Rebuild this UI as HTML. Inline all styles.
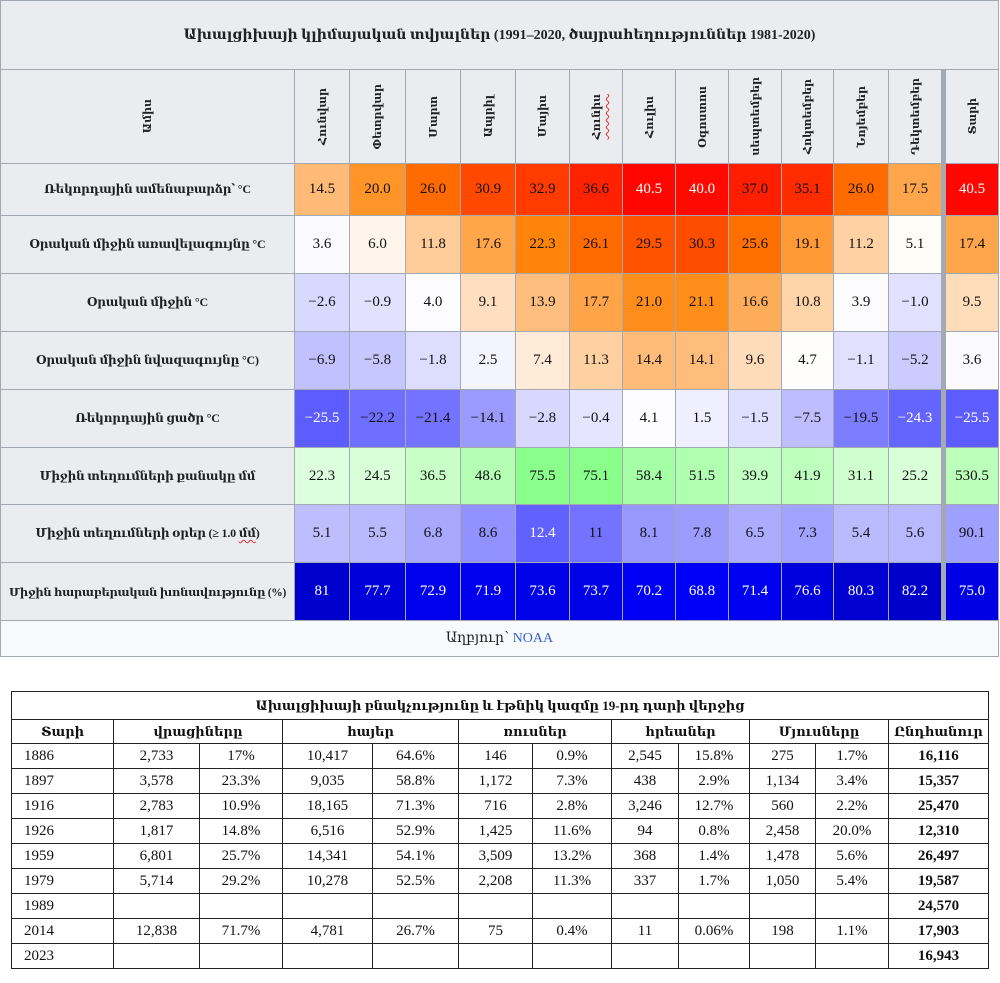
<!DOCTYPE html>
<html>
<head>
<meta charset="utf-8">
<style>
  html,body{margin:0;padding:0;background:#fff;}
  body{width:1000px;height:983px;position:relative;overflow:hidden;font-family:"Liberation Serif","DejaVu Serif",serif;color:#202122;}
  .t1{position:absolute;left:0;top:0;width:999px;height:657px;box-sizing:border-box;padding:1px;background:#a2a9b1;
      display:grid;gap:1px;
      grid-template-columns:293px 54px 55px 54px 54px 53px 52px 52px 52px 52px 51px 54px 52px 3px 52px;
      grid-template-rows:68px 93px 51px 57px 57px 57px 57px 56px 57px 57px 35px;}
  .t1 > div{display:flex;align-items:center;justify-content:center;text-align:center;}
  .title{grid-column:1 / span 15;background:#eaecf0;font-weight:bold;font-size:14px;color:#202122;}
  .th{background:#eaecf0;font-weight:bold;font-size:12px;color:#202122;white-space:nowrap;letter-spacing:-0.2px;}
  .vh{background:#eaecf0;font-weight:bold;font-size:11px;color:#202122;}
  .vh span{writing-mode:vertical-rl;transform:rotate(180deg);white-space:nowrap;}
  .sep{background:#a4a9b2;}
  .c{font-size:15px;color:#111;}
  .w{color:#fff;}
  .src{grid-column:1 / span 15;background:#f8f9fa;font-size:14px;color:#202122;}
  .src a{color:#3366cc;text-decoration:none;}
  .sq{text-decoration:underline wavy #d33;text-decoration-thickness:1px;text-underline-offset:2px;}

  .t2{position:absolute;left:11px;top:691px;width:978px;height:278px;box-sizing:border-box;padding:1px;background:#222;
      display:grid;gap:1px;
      grid-template-columns:101px 85px 82px 89px 85px 73px 78px 66px 70px 65px 72px 99px;
      grid-template-rows:27px 23px 24px 24px 24px 24px 24px 24px 24px 24px 24px;
      font-size:15px;color:#111;}
  .t2 > div{background:#fff;display:flex;align-items:center;justify-content:center;white-space:nowrap;}
  .t2 .tt{grid-column:1 / span 12;font-weight:bold;font-size:13px;}
  .t2 .h{font-weight:bold;font-size:13px;}
  .t2 .s2{grid-column:span 2;}
  .t2 .y{justify-content:flex-start;padding-left:12px;}
  .t2 .b{font-weight:bold;}
</style>
</head>
<body>

<div class="t1">
  <div class="title">Ախալցիխայի կլիմայական տվյալներ (1991–2020, ծայրահեղություններ 1981-2020)</div>

  <div class="vh"><span>Ամիս</span></div>
  <div class="vh"><span>Հունվար</span></div>
  <div class="vh"><span>Փետրվար</span></div>
  <div class="vh"><span>Մարտ</span></div>
  <div class="vh"><span>Ապրիլ</span></div>
  <div class="vh"><span>Մայիս</span></div>
  <div class="vh"><span class="sq">Հունիս</span></div>
  <div class="vh"><span>Հուլիս</span></div>
  <div class="vh"><span>Օգոստոս</span></div>
  <div class="vh"><span>սեպտեմբեր</span></div>
  <div class="vh"><span>Հոկտեմբեր</span></div>
  <div class="vh"><span>Նոյեմբեր</span></div>
  <div class="vh"><span>Դեկտեմբեր</span></div>
  <div class="sep"></div>
  <div class="vh"><span>Տարի</span></div>

  <!-- Record high -->
  <div class="th">Ռեկորդային ամենաբարձր՝ °C</div>
  <div class="c" style="background:rgb(255,186,117)">14.5</div>
  <div class="c" style="background:rgb(255,148,41)">20.0</div>
  <div class="c" style="background:rgb(255,107,0)">26.0</div>
  <div class="c" style="background:rgb(255,73,0)">30.9</div>
  <div class="c" style="background:rgb(255,59,0)">32.9</div>
  <div class="c" style="background:rgb(255,34,0)">36.6</div>
  <div class="c w" style="background:rgb(255,7,0)">40.5</div>
  <div class="c w" style="background:rgb(255,10,0)">40.0</div>
  <div class="c" style="background:rgb(255,31,0)">37.0</div>
  <div class="c" style="background:rgb(255,44,0)">35.1</div>
  <div class="c" style="background:rgb(255,107,0)">26.0</div>
  <div class="c" style="background:rgb(255,165,76)">17.5</div>
  <div class="sep"></div>
  <div class="c w" style="background:rgb(255,7,0)">40.5</div>

  <!-- Mean max -->
  <div class="th">Օրական միջին առավելագույնը °C</div>
  <div class="c" style="background:rgb(250,250,255)">3.6</div>
  <div class="c" style="background:rgb(255,245,234)">6.0</div>
  <div class="c" style="background:rgb(255,205,154)">11.8</div>
  <div class="c" style="background:rgb(255,165,74)">17.6</div>
  <div class="c" style="background:rgb(255,132,10)">22.3</div>
  <div class="c" style="background:rgb(255,106,0)">26.1</div>
  <div class="c" style="background:rgb(255,83,0)">29.5</div>
  <div class="c" style="background:rgb(255,77,0)">30.3</div>
  <div class="c" style="background:rgb(255,110,0)">25.6</div>
  <div class="c" style="background:rgb(255,154,54)">19.1</div>
  <div class="c" style="background:rgb(255,209,163)">11.2</div>
  <div class="c" style="background:rgb(255,251,247)">5.1</div>
  <div class="sep"></div>
  <div class="c" style="background:rgb(255,166,77)">17.4</div>

  <!-- Mean -->
  <div class="th">Օրական միջին °C</div>
  <div class="c" style="background:rgb(217,217,255)">−2.6</div>
  <div class="c" style="background:rgb(226,226,255)">−0.9</div>
  <div class="c" style="background:rgb(252,252,255)">4.0</div>
  <div class="c" style="background:rgb(255,223,192)">9.1</div>
  <div class="c" style="background:rgb(255,190,125)">13.9</div>
  <div class="c" style="background:rgb(255,164,73)">17.7</div>
  <div class="c" style="background:rgb(255,141,28)">21.0</div>
  <div class="c" style="background:rgb(255,141,26)">21.1</div>
  <div class="c" style="background:rgb(255,172,88)">16.6</div>
  <div class="c" style="background:rgb(255,212,168)">10.8</div>
  <div class="c" style="background:rgb(252,252,255)">3.9</div>
  <div class="c" style="background:rgb(225,225,255)">−1.0</div>
  <div class="sep"></div>
  <div class="c" style="background:rgb(255,221,186)">9.5</div>

  <!-- Mean min -->
  <div class="th">Օրական միջին նվազագույնը °C)</div>
  <div class="c" style="background:rgb(193,193,255)">−6.9</div>
  <div class="c" style="background:rgb(199,199,255)">−5.8</div>
  <div class="c" style="background:rgb(221,221,255)">−1.8</div>
  <div class="c" style="background:rgb(244,244,255)">2.5</div>
  <div class="c" style="background:rgb(255,235,215)">7.4</div>
  <div class="c" style="background:rgb(255,208,161)">11.3</div>
  <div class="c" style="background:rgb(255,187,119)">14.4</div>
  <div class="c" style="background:rgb(255,189,123)">14.1</div>
  <div class="c" style="background:rgb(255,220,185)">9.6</div>
  <div class="c" style="background:rgb(255,254,252)">4.7</div>
  <div class="c" style="background:rgb(225,225,255)">−1.1</div>
  <div class="c" style="background:rgb(203,203,255)">−5.2</div>
  <div class="sep"></div>
  <div class="c" style="background:rgb(250,250,255)">3.6</div>

  <!-- Record low -->
  <div class="th">Ռեկորդային ցածր °C</div>
  <div class="c w" style="background:rgb(93,93,255)">−25.5</div>
  <div class="c" style="background:rgb(111,111,255)">−22.2</div>
  <div class="c" style="background:rgb(115,115,255)">−21.4</div>
  <div class="c" style="background:rgb(155,155,255)">−14.1</div>
  <div class="c" style="background:rgb(216,216,255)">−2.8</div>
  <div class="c" style="background:rgb(229,229,255)">−0.4</div>
  <div class="c" style="background:rgb(253,253,255)">4.1</div>
  <div class="c" style="background:rgb(239,239,255)">1.5</div>
  <div class="c" style="background:rgb(223,223,255)">−1.5</div>
  <div class="c" style="background:rgb(190,190,255)">−7.5</div>
  <div class="c" style="background:rgb(125,125,255)">−19.5</div>
  <div class="c w" style="background:rgb(100,100,255)">−24.3</div>
  <div class="sep"></div>
  <div class="c w" style="background:rgb(93,93,255)">−25.5</div>

  <!-- Precipitation -->
  <div class="th">Միջին տեղումների քանակը մմ</div>
  <div class="c" style="background:rgb(221,255,221)">22.3</div>
  <div class="c" style="background:rgb(217,255,217)">24.5</div>
  <div class="c" style="background:rgb(199,255,199)">36.5</div>
  <div class="c" style="background:rgb(180,255,180)">48.6</div>
  <div class="c" style="background:rgb(139,255,139)">75.5</div>
  <div class="c" style="background:rgb(139,255,139)">75.1</div>
  <div class="c" style="background:rgb(165,255,165)">58.4</div>
  <div class="c" style="background:rgb(176,255,176)">51.5</div>
  <div class="c" style="background:rgb(194,255,194)">39.9</div>
  <div class="c" style="background:rgb(190,255,190)">41.9</div>
  <div class="c" style="background:rgb(207,255,207)">31.1</div>
  <div class="c" style="background:rgb(216,255,216)">25.2</div>
  <div class="sep"></div>
  <div class="c" style="background:rgb(187,255,187)">530.5</div>

  <!-- Precip days -->
  <div class="th">Միջին տեղումների օրեր (≥ 1.0&nbsp;<span class="sq">մմ</span>)</div>
  <div class="c" style="background:rgb(190,190,255)">5.1</div>
  <div class="c" style="background:rgb(185,185,255)">5.5</div>
  <div class="c" style="background:rgb(168,168,255)">6.8</div>
  <div class="c" style="background:rgb(145,145,255)">8.6</div>
  <div class="c w" style="background:rgb(97,97,255)">12.4</div>
  <div class="c" style="background:rgb(115,115,255)">11</div>
  <div class="c" style="background:rgb(152,152,255)">8.1</div>
  <div class="c" style="background:rgb(156,156,255)">7.8</div>
  <div class="c" style="background:rgb(172,172,255)">6.5</div>
  <div class="c" style="background:rgb(162,162,255)">7.3</div>
  <div class="c" style="background:rgb(186,186,255)">5.4</div>
  <div class="c" style="background:rgb(184,184,255)">5.6</div>
  <div class="sep"></div>
  <div class="c" style="background:rgb(159,159,255)">90.1</div>

  <!-- Humidity -->
  <div class="th" style="font-size:11.5px;letter-spacing:-0.3px;">Միջին հարաբերական խոնավությունը (%)</div>
  <div class="c w" style="background:rgb(0,0,206)">81</div>
  <div class="c w" style="background:rgb(0,0,218)">77.7</div>
  <div class="c w" style="background:rgb(0,0,236)">72.9</div>
  <div class="c w" style="background:rgb(0,0,239)">71.9</div>
  <div class="c w" style="background:rgb(0,0,233)">73.6</div>
  <div class="c w" style="background:rgb(0,0,233)">73.7</div>
  <div class="c w" style="background:rgb(0,0,245)">70.2</div>
  <div class="c w" style="background:rgb(0,0,250)">68.8</div>
  <div class="c w" style="background:rgb(0,0,241)">71.4</div>
  <div class="c w" style="background:rgb(0,0,222)">76.6</div>
  <div class="c w" style="background:rgb(0,0,209)">80.3</div>
  <div class="c w" style="background:rgb(0,0,202)">82.2</div>
  <div class="sep"></div>
  <div class="c w" style="background:rgb(0,0,228)">75.0</div>

  <div class="src">Աղբյուր՝&nbsp;<a>NOAA</a></div>
</div>

<div class="t2">
  <div class="tt">Ախալցիխայի բնակչությունը և էթնիկ կազմը 19-րդ դարի վերջից</div>

  <div class="h">Տարի</div>
  <div class="h s2">վրացիները</div>
  <div class="h s2">հայեր</div>
  <div class="h s2">ռուսներ</div>
  <div class="h s2">հրեաներ</div>
  <div class="h s2">Մյուսները</div>
  <div class="h">Ընդհանուր</div>

  <div class="y">1886</div><div>2,733</div><div>17%</div><div>10,417</div><div>64.6%</div><div>146</div><div>0.9%</div><div>2,545</div><div>15.8%</div><div>275</div><div>1.7%</div><div class="b">16,116</div>
  <div class="y">1897</div><div>3,578</div><div>23.3%</div><div>9,035</div><div>58.8%</div><div>1,172</div><div>7.3%</div><div>438</div><div>2.9%</div><div>1,134</div><div>3.4%</div><div class="b">15,357</div>
  <div class="y">1916</div><div>2,783</div><div>10.9%</div><div>18,165</div><div>71.3%</div><div>716</div><div>2.8%</div><div>3,246</div><div>12.7%</div><div>560</div><div>2.2%</div><div class="b">25,470</div>
  <div class="y">1926</div><div>1,817</div><div>14.8%</div><div>6,516</div><div>52.9%</div><div>1,425</div><div>11.6%</div><div>94</div><div>0.8%</div><div>2,458</div><div>20.0%</div><div class="b">12,310</div>
  <div class="y">1959</div><div>6,801</div><div>25.7%</div><div>14,341</div><div>54.1%</div><div>3,509</div><div>13.2%</div><div>368</div><div>1.4%</div><div>1,478</div><div>5.6%</div><div class="b">26,497</div>
  <div class="y">1979</div><div>5,714</div><div>29.2%</div><div>10,278</div><div>52.5%</div><div>2,208</div><div>11.3%</div><div>337</div><div>1.7%</div><div>1,050</div><div>5.4%</div><div class="b">19,587</div>
  <div class="y">1989</div><div></div><div></div><div></div><div></div><div></div><div></div><div></div><div></div><div></div><div></div><div class="b">24,570</div>
  <div class="y">2014</div><div>12,838</div><div>71.7%</div><div>4,781</div><div>26.7%</div><div>75</div><div>0.4%</div><div>11</div><div>0.06%</div><div>198</div><div>1.1%</div><div class="b">17,903</div>
  <div class="y">2023</div><div></div><div></div><div></div><div></div><div></div><div></div><div></div><div></div><div></div><div></div><div class="b">16,943</div>
</div>

</body>
</html>
